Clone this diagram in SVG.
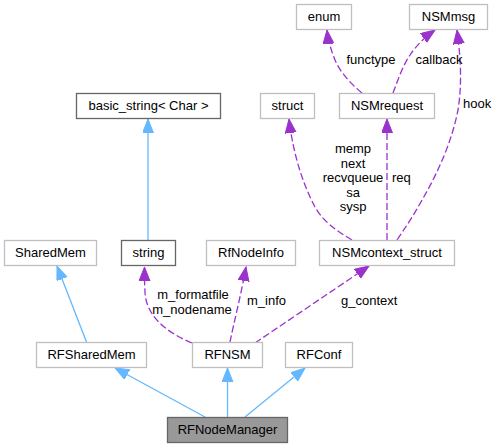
<svg xmlns="http://www.w3.org/2000/svg" width="498" height="448" viewBox="0 0 498 448">
<style>
text{font-family:"Liberation Sans",Arial,Helvetica,sans-serif;font-size:13px;fill:#000}
.n{text-anchor:middle}
.box{fill:#fff;stroke:#bfbfbf;stroke-width:1.3}
.dark{fill:#fff;stroke:#666;stroke-width:1.3}
.main{fill:#999;stroke:#666;stroke-width:1.3}
.inh{fill:none;stroke:#63b8ff;stroke-width:1.3;marker-end:url(#ab)}
.use{fill:none;stroke:#9a32cd;stroke-width:1.3;stroke-dasharray:7,3;marker-end:url(#ap)}
</style>
<defs>
<marker id="ab" markerUnits="userSpaceOnUse" markerWidth="15" markerHeight="12" refX="14" refY="5.5" orient="auto"><path d="M0,0 L14,5.5 L0,11 z" fill="#63b8ff" stroke="#63b8ff"/></marker>
<marker id="ap" markerUnits="userSpaceOnUse" markerWidth="15" markerHeight="12" refX="14" refY="5.5" orient="auto"><path d="M0,0 L14,5.5 L0,11 z" fill="#9a32cd" stroke="#9a32cd"/></marker>
</defs>
<rect width="498" height="448" fill="#fff"/>
<g id="connectors">
<path class="inh" d="M148,240 L148,119"/>
<path class="inh" d="M86.5,342 L57,266"/>
<path class="inh" d="M205,417 L115,368"/>
<path class="inh" d="M227.5,417 L227.5,368"/>
<path class="inh" d="M245,417 L305,368"/>
<path class="use" d="M192,343 C163,331 146,314 145,292 C144.5,284 144.5,276 144.5,267"/>
<path class="use" d="M230,342 C234,322 241,295 246,267"/>
<path class="use" d="M255,343 L369,266"/>
<path class="use" d="M352,240 C335,230 322,220 315,207 C305,188 294,160 289,119"/>
<path class="use" d="M387,240 L387,119"/>
<path class="use" d="M397,240 C405,228 412,218 418,207 C440,170 452,140 458,110 C462,85 461,60 457,30"/>
<path class="use" d="M362,93 C350,83 340,72 335,60 C331,50 328,40 327,30"/>
<path class="use" d="M393,93 C398,80 403,65 410,55 C416,46 425,37 435,30"/>
<text x="193" y="299" class="n">m_formatfile</text>
<text x="192" y="313.5" class="n">m_nodename</text>
<text x="247" y="305">m_info</text>
<text x="341" y="305">g_context</text>
<text x="353" y="153" class="n">memp</text>
<text x="353" y="167.5" class="n">next</text>
<text x="353" y="182" class="n">recvqueue</text>
<text x="353" y="196.5" class="n">sa</text>
<text x="353" y="211" class="n">sysp</text>
<text x="392" y="182">req</text>
<text x="463" y="108">hook</text>
<text x="371" y="64" class="n">functype</text>
<text x="439" y="64" class="n">callback</text>
</g>
<g id="RFNodeManager"><rect class="main" x="167.5" y="417.5" width="120" height="25"/><text x="227.5" y="434" class="n">RFNodeManager</text></g>
<g id="RFSharedMem"><rect class="box" x="36.5" y="342.5" width="110" height="25"/><text x="91.5" y="359" class="n">RFSharedMem</text></g>
<g id="SharedMem"><rect class="box" x="4.5" y="240.5" width="92" height="25"/><text x="50.5" y="257" class="n">SharedMem</text></g>
<g id="RFNSM"><rect class="box" x="192.5" y="342.5" width="70" height="25"/><text x="227.5" y="359" class="n">RFNSM</text></g>
<g id="string"><rect class="dark" x="121.5" y="240.5" width="54" height="25"/><text x="148.5" y="257" class="n">string</text></g>
<g id="basic_string"><rect class="dark" x="76.5" y="93.5" width="144" height="25"/><text x="148.5" y="110" class="n">basic_string&lt; Char &gt;</text></g>
<g id="RfNodeInfo"><rect class="box" x="206.5" y="240.5" width="89" height="25"/><text x="251" y="257" class="n">RfNodeInfo</text></g>
<g id="NSMcontext_struct"><rect class="box" x="319.5" y="240.5" width="135" height="25"/><text x="387" y="257" class="n">NSMcontext_struct</text></g>
<g id="RFConf"><rect class="box" x="285.5" y="342.5" width="67" height="25"/><text x="319" y="359" class="n">RFConf</text></g>
<g id="struct"><rect class="box" x="260.5" y="93.5" width="54" height="25"/><text x="287.5" y="110" class="n">struct</text></g>
<g id="NSMrequest"><rect class="box" x="339.5" y="93.5" width="95" height="25"/><text x="387" y="110" class="n">NSMrequest</text></g>
<g id="enum"><rect class="box" x="296.5" y="4.5" width="55" height="25"/><text x="324" y="21" class="n">enum</text></g>
<g id="NSMmsg"><rect class="box" x="409.5" y="4.5" width="78" height="25"/><text x="448.5" y="21" class="n">NSMmsg</text></g>
</svg>
